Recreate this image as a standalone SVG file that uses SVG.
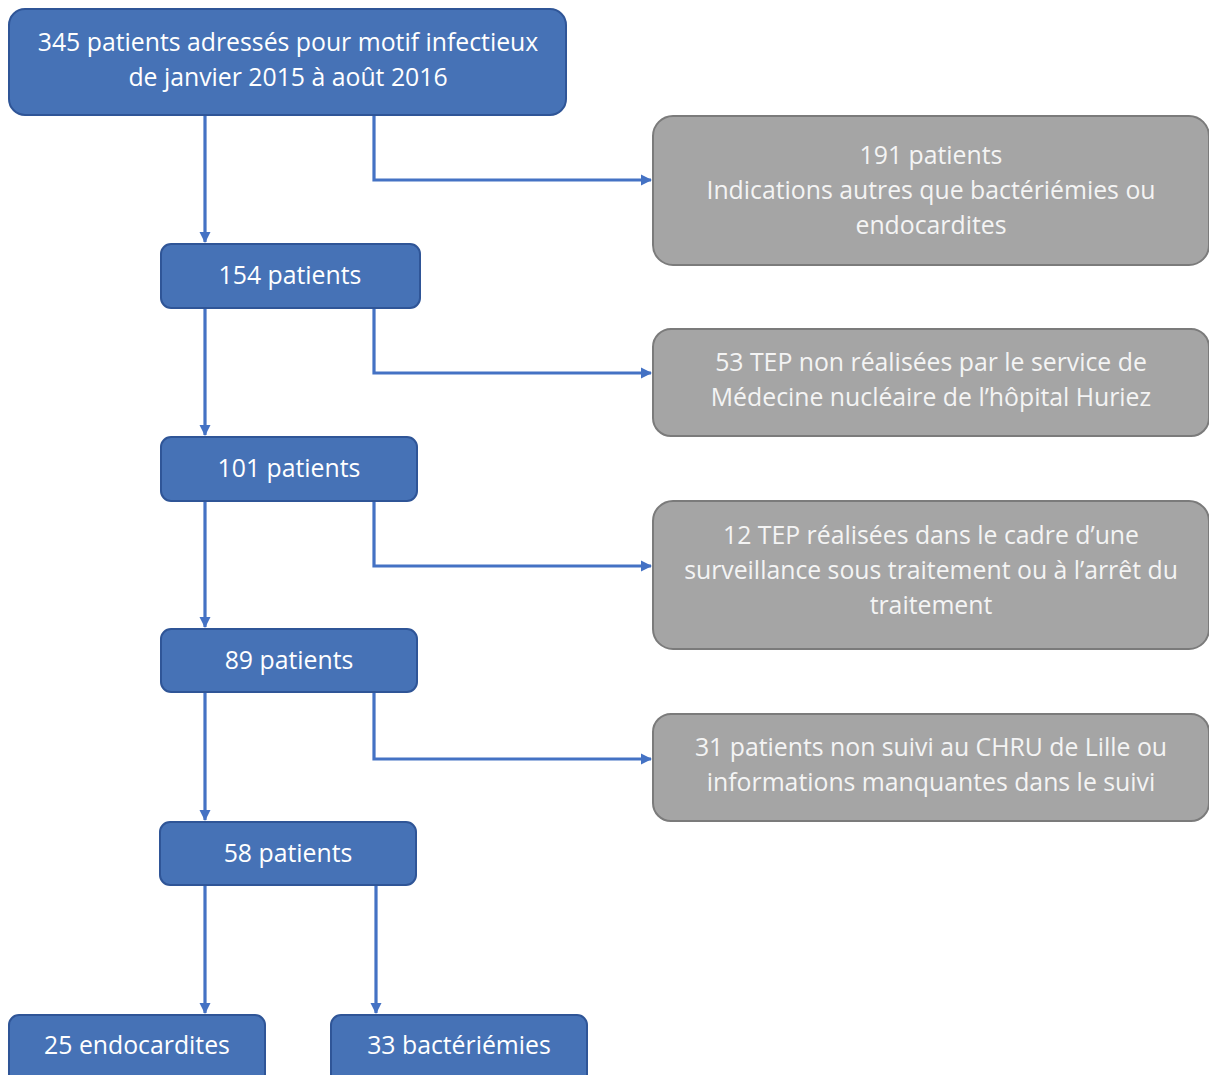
<svg xmlns="http://www.w3.org/2000/svg" width="1209" height="1075" viewBox="0 0 1209 1075">
<defs>
<style>
.b{fill:#4672B6;stroke:#2F5597;stroke-width:2}
.g{fill:#A5A5A5;stroke:#7B7B7B;stroke-width:2}
.t{font-family:"Open Sans","Liberation Sans",sans-serif;font-size:24.8px;fill:#FFFFFF;text-anchor:middle}
.tg{fill:#F4F4F4}
.c{fill:none;stroke:#4472C4;stroke-width:3.2;marker-end:url(#a)}
</style>
<marker id="a" markerWidth="12" markerHeight="12" refX="10" refY="6" orient="auto" markerUnits="userSpaceOnUse">
<path d="M0,0.5 L11,6 L0,11.5 Z" fill="#4472C4"/>
</marker>
</defs>
<rect width="1209" height="1075" fill="#FFFFFF"/>
<g id="connectors">
<path class="c" d="M205,116 V242"/>
<path class="c" d="M374,116 V180 H651"/>
<path class="c" d="M205,309 V435"/>
<path class="c" d="M374,309 V373 H651"/>
<path class="c" d="M205,501 V627"/>
<path class="c" d="M374,501 V566 H651"/>
<path class="c" d="M205,693 V820"/>
<path class="c" d="M374,693 V759 H651"/>
<path class="c" d="M205,886 V1013"/>
<path class="c" d="M376,886 V1013"/>
</g>
<g id="n345">
<rect class="b" x="9" y="9" width="557" height="106" rx="16"/>
<text class="t" x="288" y="51">345 patients adressés pour motif infectieux</text>
<text class="t" x="288" y="86">de janvier 2015 à août 2016</text>
</g>
<g id="n191">
<rect class="g" x="653" y="116" width="556" height="149" rx="20"/>
<text class="t tg" x="931" y="164">191 patients</text>
<text class="t tg" x="931" y="199">Indications autres que bactériémies ou</text>
<text class="t tg" x="931" y="234">endocardites</text>
</g>
<g id="n154">
<rect class="b" x="161" y="244" width="259" height="64" rx="10"/>
<text class="t" x="290" y="284">154 patients</text>
</g>
<g id="n53">
<rect class="g" x="653" y="329" width="556" height="107" rx="18"/>
<text class="t tg" x="931" y="371">53 TEP non réalisées par le service de</text>
<text class="t tg" x="931" y="406">Médecine nucléaire de l’hôpital Huriez</text>
</g>
<g id="n101">
<rect class="b" x="161" y="437" width="256" height="64" rx="10"/>
<text class="t" x="289" y="477">101 patients</text>
</g>
<g id="n12">
<rect class="g" x="653" y="501" width="556" height="148" rx="20"/>
<text class="t tg" x="931" y="544">12 TEP réalisées dans le cadre d’une</text>
<text class="t tg" x="931" y="579">surveillance sous traitement ou à l’arrêt du</text>
<text class="t tg" x="931" y="614">traitement</text>
</g>
<g id="n89">
<rect class="b" x="161" y="629" width="256" height="63" rx="10"/>
<text class="t" x="289" y="669">89 patients</text>
</g>
<g id="n31">
<rect class="g" x="653" y="714" width="556" height="107" rx="18"/>
<text class="t tg" x="931" y="756">31 patients non suivi au CHRU de Lille ou</text>
<text class="t tg" x="931" y="791">informations manquantes dans le suivi</text>
</g>
<g id="n58">
<rect class="b" x="160" y="822" width="256" height="63" rx="10"/>
<text class="t" x="288" y="862">58 patients</text>
</g>
<g id="n25">
<rect class="b" x="9" y="1015" width="256" height="70" rx="10"/>
<text class="t" x="137" y="1054">25 endocardites</text>
</g>
<g id="n33">
<rect class="b" x="331" y="1015" width="256" height="70" rx="10"/>
<text class="t" x="459" y="1054">33 bactériémies</text>
</g>
</svg>
